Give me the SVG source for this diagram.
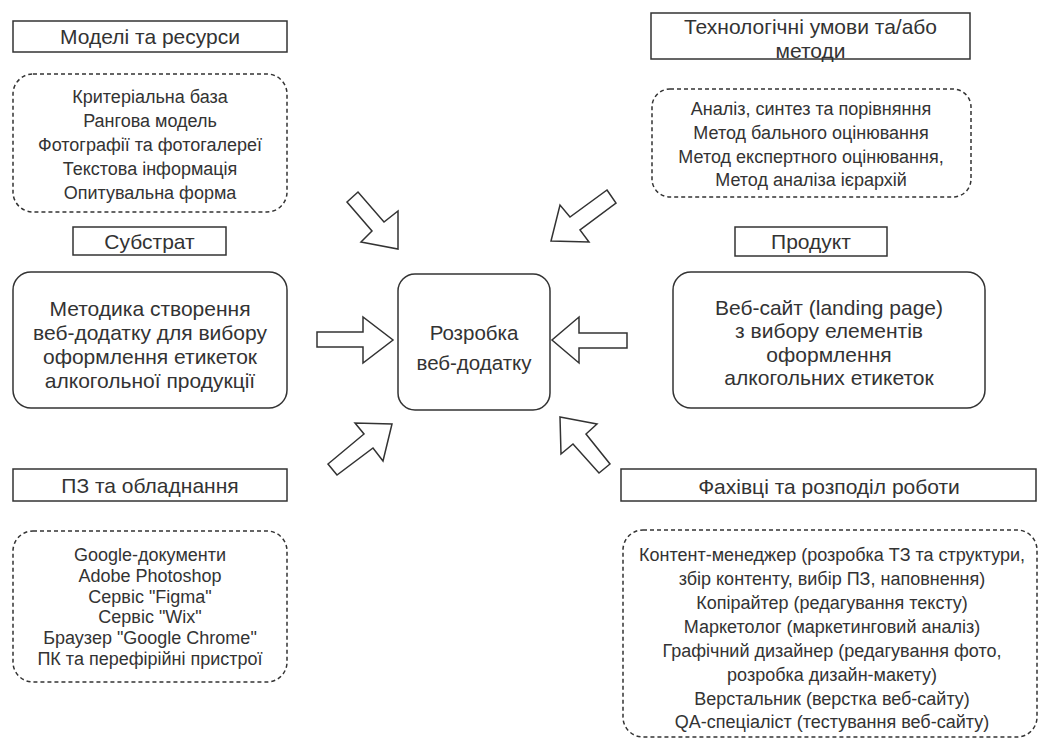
<svg xmlns="http://www.w3.org/2000/svg" width="1041" height="740" viewBox="0 0 1041 740">
<style>
text{font-family:"Liberation Sans",Arial,sans-serif;fill:#333;text-anchor:middle;dominant-baseline:central}
.t{font-size:21px}
.l{font-size:18px}
.b{font-size:21px}
.c{font-size:20.5px}
.box{fill:#fff;stroke:#333;stroke-width:1.5}
.dash{fill:#fff;stroke:#333;stroke-width:1.5;stroke-dasharray:4 3}
.arr{fill:#fff;stroke:#333;stroke-width:1.5;stroke-linejoin:miter}
</style>
<rect width="1041" height="740" fill="#fff"/>
<g id="connectors">
<polygon class="arr" points="347,202 358,192 384,222 398,211 398,249 361,242 372,231"/>
<polygon class="arr" points="607,190 616,203 580,230 589,242 551,241 560,205 570,217"/>
<polygon class="arr" points="317,332 363,332 363,317 393,340 363,363 363,347 317,347"/>
<polygon class="arr" points="627,333 579,333 579,317 552,340 579,363 579,348 627,348"/>
<polygon class="arr" points="328,464 364,434 355,423 392,424 383,461 373,448 337,475"/>
<polygon class="arr" points="560,417 597,424 586,434 610,464 599,473 573,444 561,454"/>
</g>
<g id="models-title">
<rect class="box" x="13" y="21" width="274" height="31"/>
<text class="t" x="150" y="36">Моделі та ресурси</text>
</g>
<g id="models-list">
<rect class="dash" x="13" y="74" width="274" height="138" rx="20"/>
<text class="l" x="150" y="97">Критеріальна база</text>
<text class="l" x="150" y="121">Рангова модель</text>
<text class="l" x="150" y="144.5">Фотографії та фотогалереї</text>
<text class="l" x="150" y="168.5">Текстова інформація</text>
<text class="l" x="150" y="192.5">Опитувальна форма</text>
</g>
<g id="substrate-title">
<rect class="box" x="73" y="227" width="153" height="28"/>
<text class="t" x="149.5" y="241.5">Субстрат</text>
</g>
<g id="substrate">
<rect class="box" x="13" y="272" width="274" height="136" rx="18"/>
<text class="b" x="150" y="308">Методика створення</text>
<text class="b" x="150" y="332">веб-додатку для вибору</text>
<text class="b" x="150" y="356">оформлення етикеток</text>
<text class="b" x="150" y="380">алкогольної продукції</text>
</g>
<g id="tech-title">
<rect class="box" x="651" y="13" width="319" height="46"/>
<text class="t" x="810.5" y="26.5">Технологічні умови та/або</text>
<text class="t" x="810.5" y="50">методи</text>
</g>
<g id="tech-list">
<rect class="dash" x="652" y="89" width="319" height="108" rx="18"/>
<text class="l" x="811" y="108.5">Аналіз, синтез та порівняння</text>
<text class="l" x="811" y="132.5">Метод бального оцінювання</text>
<text class="l" x="811" y="156.5">Метод експертного оцінювання,</text>
<text class="l" x="811" y="180">Метод аналіза ієрархій</text>
</g>
<g id="product-title">
<rect class="box" x="735" y="227" width="152" height="29"/>
<text class="t" x="811" y="241.5">Продукт</text>
</g>
<g id="product">
<rect class="box" x="673" y="272" width="312" height="136" rx="18"/>
<text class="b" x="829" y="307">Веб-сайт (landing page)</text>
<text class="b" x="829" y="330.5">з вибору елементів</text>
<text class="b" x="829" y="354">оформлення</text>
<text class="b" x="829" y="377.5">алкогольних етикеток</text>
</g>
<g id="center">
<rect class="box" x="398" y="274" width="152" height="136" rx="17"/>
<text class="c" x="474" y="332">Розробка</text>
<text class="c" x="474" y="362.5">веб-додатку</text>
</g>
<g id="software-title">
<rect class="box" x="13" y="469" width="274" height="32"/>
<text class="t" x="150" y="485">ПЗ та обладнання</text>
</g>
<g id="software-list">
<rect class="dash" x="13" y="531" width="274" height="151" rx="20"/>
<text class="l" x="150" y="555">Google-документи</text>
<text class="l" x="150" y="576">Adobe Photoshop</text>
<text class="l" x="150" y="596.5">Сервіс "Figma"</text>
<text class="l" x="150" y="617">Сервіс "Wix"</text>
<text class="l" x="150" y="637.5">Браузер "Google Chrome"</text>
<text class="l" x="150" y="659">ПК та перефірійні пристрої</text>
</g>
<g id="staff-title">
<rect class="box" x="621" y="469" width="415" height="32"/>
<text class="t" x="829" y="486.5">Фахівці та розподіл роботи</text>
</g>
<g id="staff-list">
<rect class="dash" x="623" y="530" width="414" height="207" rx="20"/>
<text class="l" x="832" y="554.5">Контент-менеджер (розробка ТЗ та структури,</text>
<text class="l" x="832" y="578.5">збір контенту, вибір ПЗ, наповнення)</text>
<text class="l" x="832" y="602.5">Копірайтер (редагування тексту)</text>
<text class="l" x="832" y="626.5">Маркетолог (маркетинговий аналіз)</text>
<text class="l" x="832" y="650.5">Графічний дизайнер (редагування фото,</text>
<text class="l" x="832" y="674.5">розробка дизайн-макету)</text>
<text class="l" x="832" y="698.5">Верстальник (верстка веб-сайту)</text>
<text class="l" x="832" y="722">QA-спеціаліст (тестування веб-сайту)</text>
</g>
</svg>
